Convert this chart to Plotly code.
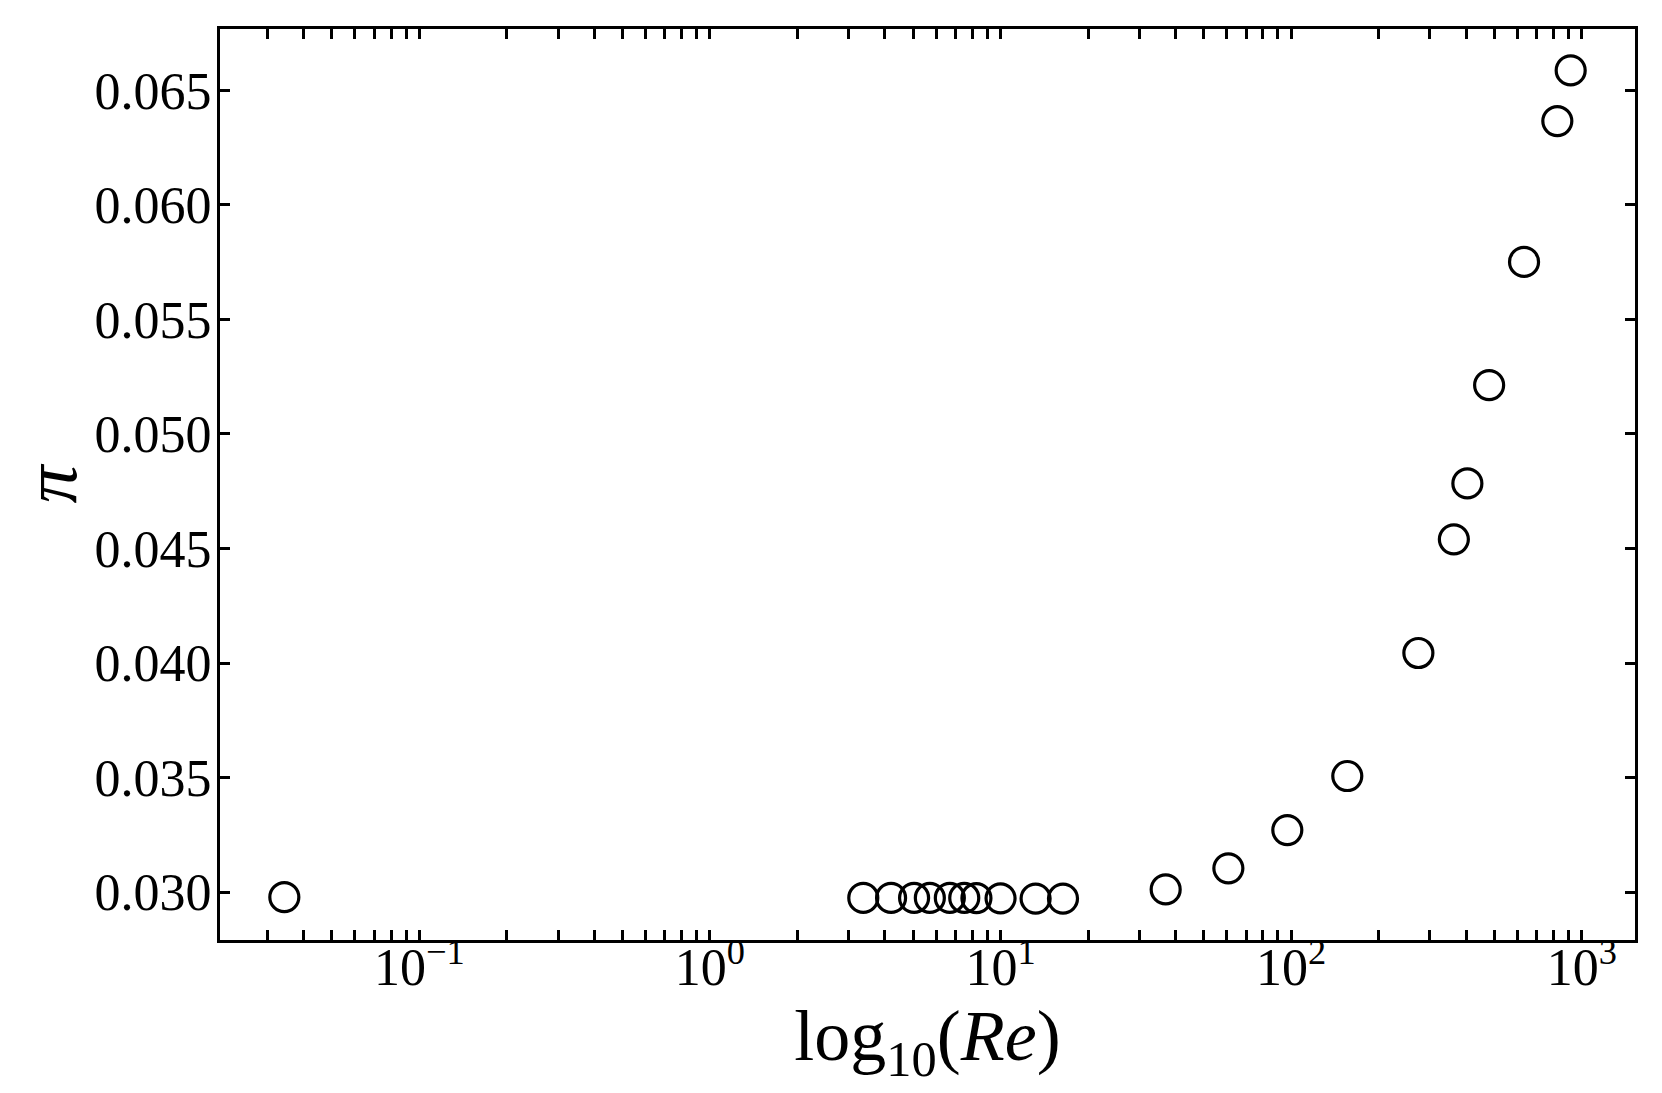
import numpy as np
import plotly.graph_objects as go

# Reynolds number and pi values
re_vals = [0.0343, 3.37, 4.20, 5.04, 5.71, 6.69, 7.50, 8.26, 10.0, 13.2, 16.4,
           37.0, 60.8, 97.0, 156.0, 274.0, 363.0, 404.0, 480.0, 633.0, 824.0, 916.0]
pi_vals = [0.02978, 0.02975, 0.02975, 0.02975, 0.02975, 0.02975, 0.02975, 0.02974, 0.02973,
           0.02972, 0.02972, 0.03012, 0.03104, 0.03271, 0.03507, 0.04044, 0.04540, 0.04784,
           0.05213, 0.05751, 0.06366, 0.06587]

x_tickvals = [0.1, 1, 10, 100, 1000]
x_ticktext = ["10<sup>\u22121</sup>", "10<sup>0</sup>", "10<sup>1</sup>", "10<sup>2</sup>", "10<sup>3</sup>"]
x_minor = [k * 10.0 ** e for e in range(-2, 4) for k in range(2, 10)]
y_tickvals = [0.030, 0.035, 0.040, 0.045, 0.050, 0.055, 0.060, 0.065]

FONT = "Liberation Serif"

# matplotlib-like 5% margins
lx = np.log10(re_vals)
xpad = 0.05 * (lx.max() - lx.min())
ypad = 0.05 * (max(pi_vals) - min(pi_vals))

fig = go.Figure()
fig.add_trace(go.Scatter(
    x=re_vals, y=pi_vals, mode="markers",
    marker=dict(symbol="circle-open", size=29, color="black", line=dict(width=3.2, color="black")),
    showlegend=False,
))

axis_common = dict(
    showline=True, linecolor="black", linewidth=3, mirror="ticks",
    ticks="inside", ticklen=10, tickwidth=3, tickcolor="black",
    showgrid=False, zeroline=False,
    tickfont=dict(family=FONT, size=52, color="black"),
)

fig.update_xaxes(
    type="log", range=[lx.min() - xpad, lx.max() + xpad],
    tickvals=x_tickvals, ticktext=x_ticktext, ticklabelstandoff=-20,
    minor=dict(tickvals=x_minor, ticks="inside", ticklen=10, tickwidth=3, tickcolor="black"),
    title=dict(text="log<sub>10</sub>(<i>Re</i>)", font=dict(family=FONT, size=72, color="black"), standoff=0),
    **axis_common,
)
fig.update_yaxes(
    range=[min(pi_vals) - ypad, max(pi_vals) + ypad],
    tickvals=y_tickvals, tickformat=".3f", ticklabelstandoff=-5,
    title=dict(text="<i>\u03c0</i>", font=dict(family=FONT, size=76, color="black"), standoff=8),
    **axis_common,
)

fig.update_layout(
    width=1662, height=1093,
    margin=dict(l=212, r=35, t=21, b=161),
    plot_bgcolor="white", paper_bgcolor="white",
)

fig.write_html("out.html")
